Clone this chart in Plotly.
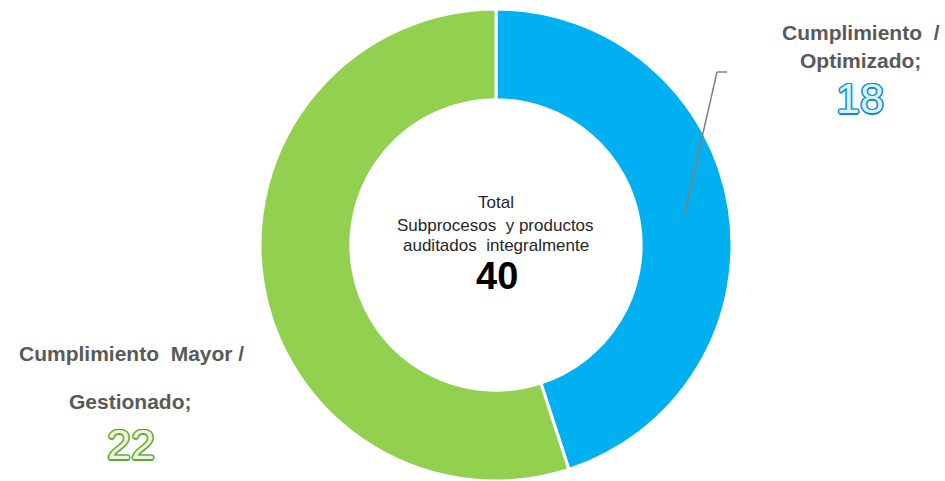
import plotly.graph_objects as go

categories = ["Cumplimiento / Optimizado", "Cumplimiento Mayor / Gestionado"]
values = [18, 22]
colors = ["#00B0F0", "#92D050"]
total_lines = ["Total", "Subprocesos  y productos", "auditados  integralmente"]
total_value = sum(values)

W, H = 945, 481

def px(x):
    return x / W

def py(y):
    return (H - y) / H

fig = go.Figure()
fig.add_trace(go.Pie(
    labels=categories,
    values=values,
    marker=dict(colors=colors, line=dict(color="white", width=3)),
    hole=0.615,
    sort=False,
    direction="clockwise",
    rotation=0,
    textinfo="none",
    hoverinfo="label+value",
    showlegend=False,
    domain=dict(x=[px(496 - 236.5), px(496 + 236.5)], y=[0, py(9)]),
))

ann = []
font_c = "Liberation Sans, Arial, sans-serif"
# center text
for txt, yy in zip(total_lines, [203, 225, 245]):
    ann.append(dict(x=px(496), y=py(yy), text=txt, showarrow=False,
                    xanchor="center", yanchor="middle",
                    font=dict(family=font_c, size=17, color="#262626")))
ann.append(dict(x=px(497), y=py(276), text=f"<b>{total_value}</b>", showarrow=False,
                xanchor="center", yanchor="middle",
                font=dict(family=font_c, size=38, color="#000000")))

def outline(c):
    offs = [(1, 0), (-1, 0), (0, 1), (0, -1), (1, 1), (-1, -1), (1, -1), (-1, 1),
            (1.5, 0), (-1.5, 0), (0, 1.5), (0, -1.5)]
    return ", ".join(f"{dx}px {dy}px 0 {c}" for dx, dy in offs)

# right label (blue)
ann.append(dict(x=px(861), y=py(33), text="<b>Cumplimiento  /</b>", showarrow=False,
                xanchor="center", yanchor="middle",
                font=dict(family=font_c, size=21, color="#595959")))
ann.append(dict(x=px(860), y=py(60), text="<b>Optimizado;</b>", showarrow=False,
                xanchor="center", yanchor="middle",
                font=dict(family=font_c, size=21, color="#595959")))
ann.append(dict(x=px(860), y=py(98), text=str(values[0]), showarrow=False,
                xanchor="center", yanchor="middle",
                font=dict(family=font_c, size=43, color="#D9F2FC", shadow=outline("#0A8FCC"))))

# left label (green)
ann.append(dict(x=px(131), y=py(353), text="<b>Cumplimiento  Mayor /</b>", showarrow=False,
                xanchor="center", yanchor="middle",
                font=dict(family=font_c, size=21, color="#595959")))
ann.append(dict(x=px(130), y=py(401), text="<b>Gestionado;</b>", showarrow=False,
                xanchor="center", yanchor="middle",
                font=dict(family=font_c, size=21, color="#595959")))
ann.append(dict(x=px(131), y=py(444), text=str(values[1]), showarrow=False,
                xanchor="center", yanchor="middle",
                font=dict(family=font_c, size=43, color="#EAF6DC", shadow=outline("#5FA532"))))

shapes = [
    dict(type="line", xref="paper", yref="paper", x0=px(684), y0=py(216), x1=px(717), y1=py(72),
         line=dict(color="#808080", width=1.5)),
    dict(type="line", xref="paper", yref="paper", x0=px(717), y0=py(72), x1=px(727), y1=py(72),
         line=dict(color="#808080", width=1.5)),
]

fig.update_layout(
    width=W, height=H,
    margin=dict(l=0, r=0, t=0, b=0),
    paper_bgcolor="white", plot_bgcolor="white",
    annotations=ann, shapes=shapes,
)

fig.write_html("out.html")
